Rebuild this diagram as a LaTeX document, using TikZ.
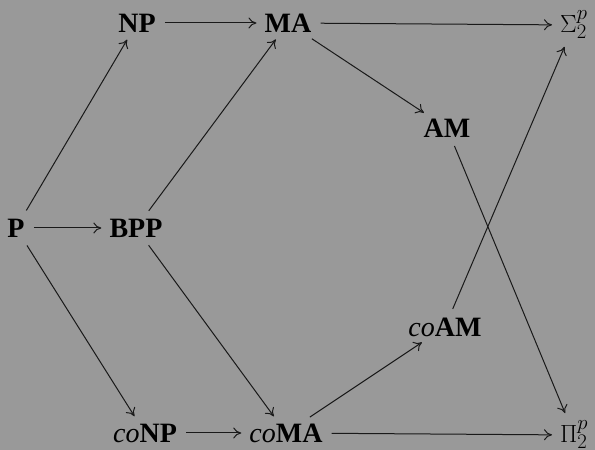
\documentclass[tikz,border=0pt]{standalone}
\usepackage{fontspec}
\setmainfont{Liberation Serif}
\usetikzlibrary{arrows.meta}
\begin{document}
\begin{tikzpicture}[x=1pt,y=1pt,
  cls/.style={inner sep=3pt, font=\fontsize{28}{32}\selectfont, text=black},
  mth/.style={inner sep=3pt, font=\fontsize{32}{36}\selectfont, text=black, anchor=west},
  arr/.style={-{To[length=8pt,width=11pt]}, line width=1pt, draw=black!90, shorten <=6pt, shorten >=5pt}]
\fill[fill={rgb,255:red,153;green,153;blue,153}] (0,0) rectangle (595,450);
\useasboundingbox (0,0) rectangle (595,450);
\node[cls] (NP) at (137,427) {\textbf{NP}};
\node[cls] (MA) at (288,427) {\textbf{MA}};
\node[mth] (S) at (557,425) {$\Sigma_2^p$};
\node[cls] (AM) at (447,322) {\textbf{AM}};
\node[cls] (P) at (16,222) {\textbf{P}};
\node[cls] (BPP) at (136,222) {\textbf{BPP}};
\node[cls] (coAM) at (445,123) {\textit{co}\textbf{AM}};
\node[cls] (coNP) at (145,17) {\textit{co}\textbf{NP}};
\node[cls] (coMA) at (286,17) {\textit{co}\textbf{MA}};
\node[mth] (Pi) at (557,15) {$\Pi_2^p$};
\draw[arr] (P) -- (NP);
\draw[arr] (P) -- (BPP);
\draw[arr] (P) -- (coNP);
\draw[arr] (NP) -- (MA);
\draw[arr] (BPP) -- (MA);
\draw[arr] (BPP) -- (coMA);
\draw[arr] (coNP) -- (coMA);
\draw[arr] (MA) -- (S);
\draw[arr] (MA) -- (AM);
\draw[arr] (AM) -- (Pi);
\draw[arr] (coMA) -- (coAM);
\draw[arr] (coMA) -- (Pi);
\draw[arr] (coAM) -- (S);
\end{tikzpicture}
\end{document}
